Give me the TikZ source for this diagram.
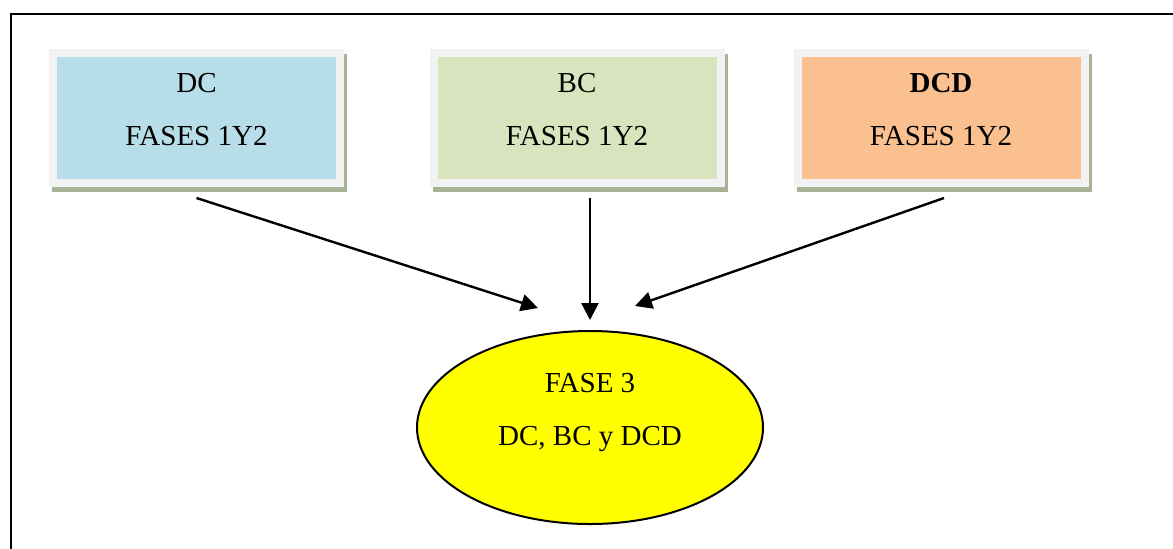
\documentclass[tikz,border=0pt]{standalone}
\usepackage{fontspec}
\setmainfont{Liberation Serif}
\usetikzlibrary{arrows.meta,shapes.geometric,backgrounds}
\definecolor{dcblue}{HTML}{B7DDE8}
\definecolor{bcgreen}{HTML}{D7E4BD}
\definecolor{dcdpeach}{HTML}{FAC090}
\definecolor{rimgray}{HTML}{F2F2F2}
\definecolor{shadowgreen}{HTML}{A7B394}
\definecolor{faseyellow}{HTML}{FFFF00}
\tikzset{fasebox/.style={draw=rimgray, line width=4pt, minimum width=143.5pt, minimum height=65pt, inner sep=0pt}, faseoval/.style={ellipse, draw, fill=faseyellow, line width=1pt, minimum width=173pt, minimum height=96.5pt, inner sep=0pt}, txt/.style={align=center, inner sep=0pt, font=\fontsize{14.5}{26.5}\selectfont}, arr/.style={-{Triangle[length=8.5pt,width=8.5pt]}, line width=1.2pt}}
\begin{document}
\begin{tikzpicture}[x=.5pt,y=-.5pt]
\useasboundingbox (0,0) rectangle (1173,548);
\clip (0,0) rectangle (1173,548);
\draw[line width=1.3pt] (11,14) rectangle (1200,580);
\node[fasebox, fill=dcblue] (dc) at (196.5,118) {}; \node[fasebox, fill=bcgreen] (bc) at (577,118) {}; \node[fasebox, fill=dcdpeach] (dcd) at (941,118) {};
\begin{scope}[on background layer]
\foreach \n in {dc,bc,dcd} \fill[shadowgreen] ([shift={(3,5)}]\n.south west) rectangle ([shift={(3,5)}]\n.north east);
\end{scope}
\node[txt] (dctxt) at ([yshift=4.25pt]dc.center) {DC\\FASES 1Y2};
\node[txt] (bctxt) at ([yshift=4.25pt]bc.center) {BC\\FASES 1Y2};
\node[txt] (dcdtxt) at ([yshift=4.25pt]dcd.center) {\textbf{DCD}\\FASES 1Y2};
\node[faseoval] (f3) at (590,427.5) {};
\node[txt] (f3txt) at ([yshift=7.25pt]f3.center) {FASE 3\\DC, BC y DCD};
\coordinate (e1) at ([shift={(-52,-22)}]f3.north); \coordinate (e2) at ([shift={(0,-10)}]f3.north); \coordinate (e3) at ([shift={(45,-24)}]f3.north);
\draw[arr] ([shift={(0,11)}]dc.south) -- (e1);
\draw[arr] ([shift={(13,11)}]bc.south) -- (e2);
\draw[arr] ([shift={(3,11)}]dcd.south) -- (e3);
\end{tikzpicture}
\end{document}
